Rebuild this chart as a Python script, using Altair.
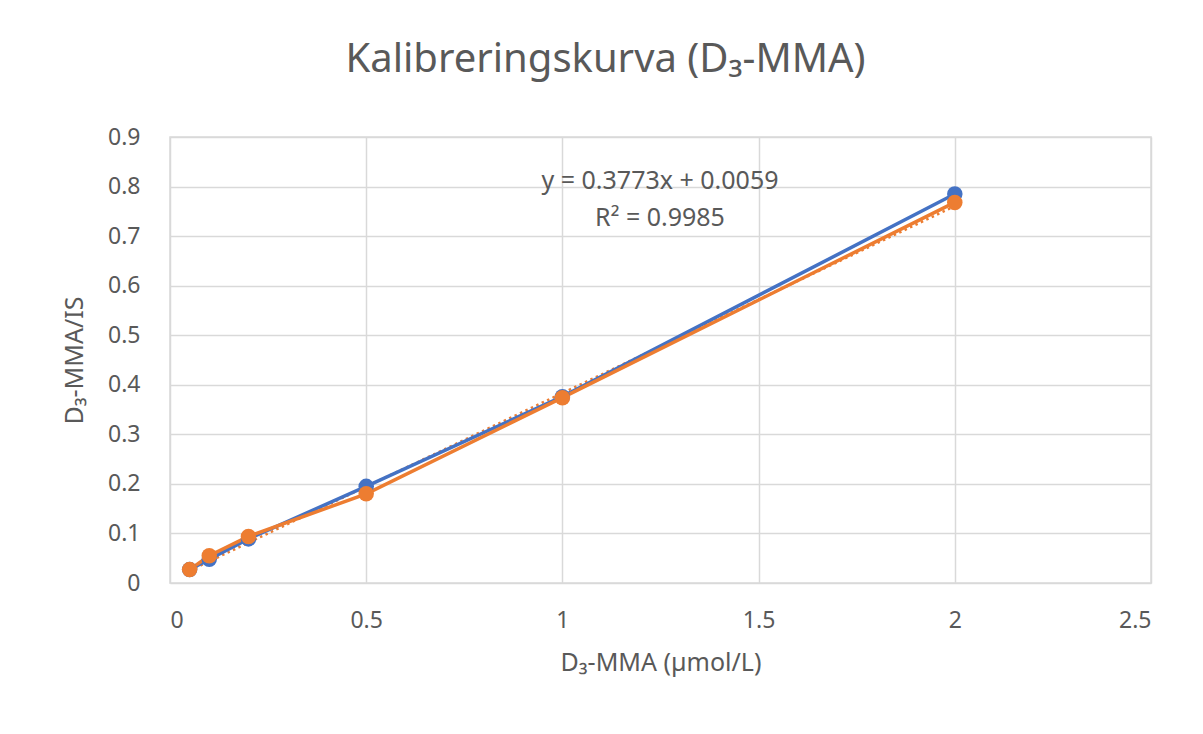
import altair as alt
import pandas as pd

conc = [0.05, 0.1, 0.2, 0.5, 1, 2]
series_blue = [0.027, 0.048, 0.089, 0.195, 0.376, 0.785]
series_orange = [0.027, 0.055, 0.094, 0.180, 0.374, 0.768]
slope = 0.3773
intercept = 0.0059
x_ticks = [0, 0.5, 1, 1.5, 2, 2.5]
y_ticks = [0, 0.1, 0.2, 0.3, 0.4, 0.5, 0.6, 0.7, 0.8, 0.9]

BLUE = "#4472C4"
ORANGE = "#ED7D31"
TXT = "#595959"
GRID = "#D9D9D9"
FONT = "Noto Sans"

df = pd.DataFrame({
    "x": conc * 2,
    "y": series_blue + series_orange,
    "s": ["A"] * len(conc) + ["B"] * len(conc),
})
trend = pd.DataFrame({
    "x": [conc[0], conc[-1]],
    "y": [slope * conc[0] + intercept, slope * conc[-1] + intercept],
})

xs = alt.Scale(domain=[0, 2.5], nice=False)
ys = alt.Scale(domain=[0, 0.9], nice=False)

xax = alt.Axis(values=x_ticks, format="~g", title="D₃-MMA (µmol/L)", grid=True,
               gridColor=GRID, gridWidth=1.5, domain=False, ticks=False,
               labelPadding=26, titlePadding=18,
               labelFont=FONT, titleFont=FONT, labelFontSize=23, titleFontSize=25,
               labelColor=TXT, titleColor=TXT, titleFontWeight="normal")
yax = alt.Axis(values=y_ticks, format="~g", title="D₃-MMA/IS", grid=True,
               gridColor=GRID, gridWidth=1.5, domain=False, ticks=False,
               labelPadding=30, titlePadding=20,
               labelFont=FONT, titleFont=FONT, labelFontSize=23, titleFontSize=25,
               labelColor=TXT, titleColor=TXT, titleFontWeight="normal")

base = alt.Chart(df)
color = alt.Color("s:N", scale=alt.Scale(domain=["A", "B"], range=[BLUE, ORANGE]), legend=None)

lines = base.mark_line(strokeWidth=3.5).encode(
    x=alt.X("x:Q", scale=xs, axis=xax),
    y=alt.Y("y:Q", scale=ys, axis=yax),
    color=color,
    detail="s:N",
)
points = base.mark_point(filled=True, size=240, opacity=1).encode(
    x=alt.X("x:Q", scale=xs),
    y=alt.Y("y:Q", scale=ys),
    color=color,
)
trend_line = alt.Chart(trend).mark_line(color=ORANGE, strokeWidth=2.5, strokeDash=[2.5, 3.5]).encode(
    x=alt.X("x:Q", scale=xs),
    y=alt.Y("y:Q", scale=ys),
)

eq_text = [f"y = {slope}x + {intercept}", "R² = 0.9985"]
eq = alt.Chart(pd.DataFrame({"t": [eq_text[0]]})).mark_text(
    font=FONT, fontSize=25, color=TXT, align="center", baseline="middle"
).encode(text="t:N", x=alt.value(490), y=alt.value(44))
r2 = alt.Chart(pd.DataFrame({"t": [eq_text[1]]})).mark_text(
    font=FONT, fontSize=25, color=TXT, align="center", baseline="middle"
).encode(text="t:N", x=alt.value(490), y=alt.value(81))

chart = alt.layer(trend_line, lines, points, eq, r2).properties(
    width=981,
    height=446,
    background="white",
    padding={"left": 162, "top": 129, "right": 20, "bottom": 130},
    autosize=alt.AutoSizeParams(type="none"),
    title=alt.Title("Kalibreringskurva (D₃-MMA)", fontSize=40, font=FONT, color=TXT,
                    fontWeight="normal", anchor="middle", dx=-55, offset=46),
).configure_view(stroke=GRID, strokeWidth=1.5)

chart.save("out.html", embed_options={"renderer": "svg", "actions": False})
